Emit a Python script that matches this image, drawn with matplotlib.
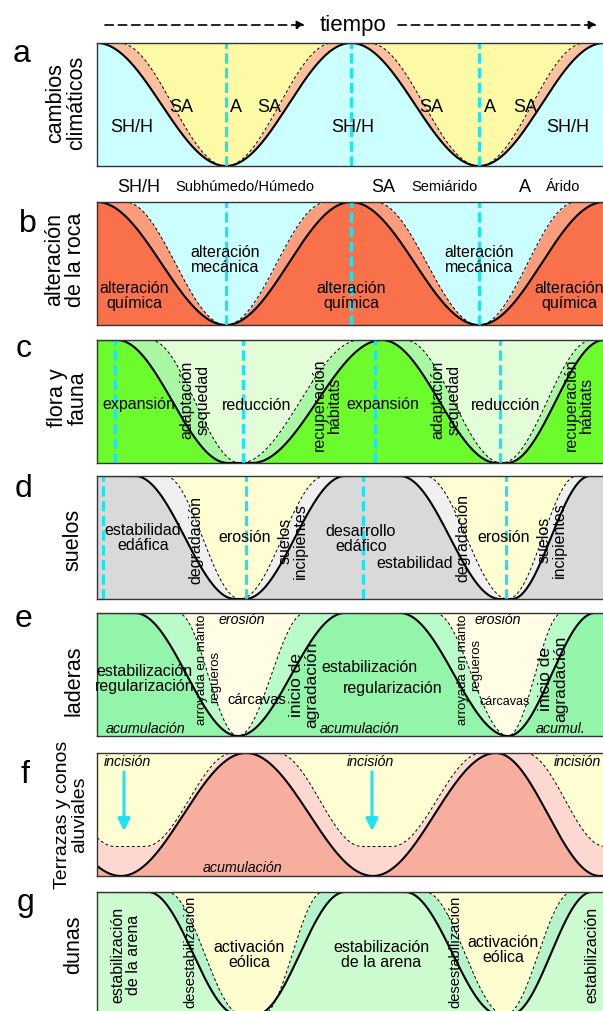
import numpy as np
import matplotlib.pyplot as plt

plt.rcParams['font.family'] = ['Liberation Sans', 'DejaVu Sans']

# ---- data ----------------------------------------------------------------
# time runs along x (same arbitrary units for every panel); level 0 = box bottom, 1 = box top
panel_ids = ['a', 'b', 'c', 'd', 'e', 'f', 'g']
panel_names = ['cambios\nclimáticos', 'alteración\nde la roca', 'flora y\nfauna', 'suelos',
               'laderas', 'Terrazas y conos\naluviales', 'dunas']

# solid curve key points (time, level)
a_solid_t = [97, 226, 351, 479, 604, 730]
a_solid_v = [1, 0, 1, 0, 1, 0]
a_dash_t = [97, 119, 226, 333, 369, 479, 585, 700]
a_dash_v = [1, 1, 0, 1, 1, 0, 1, 1]

b_solid_t = [97, 226, 351, 479, 604, 730]
b_solid_v = [1, 0, 1, 0, 1, 0]
b_dash_t = [97, 125, 226, 327, 375, 479, 576, 700]
b_dash_v = [1, 1, 0, 1, 1, 0, 1, 1]

c_solid_t = [97, 117, 228, 252, 382, 497, 507, 604, 700]
c_solid_v = [1, 1, 0, 0, 1, 0, 0, 1, 1]
c_dash_t = [97, 150, 240, 360, 405, 502, 592, 700]
c_dash_v = [1, 1, 0, 1, 1, 0, 1, 1]

d_solid_t = [97, 135, 235, 245, 345, 400, 500, 512, 590, 700]
d_solid_v = [1, 1, 0, 0, 1, 1, 0, 0, 1, 1]
d_dash_t = [97, 165, 240, 325, 425, 508, 577, 700]
d_dash_v = [1, 1, 0, 1, 1, 0, 1, 1]

e_solid_t = [97, 135, 238, 345, 400, 508, 595, 700]
e_solid_v = [1, 1, 0, 1, 1, 0, 1, 1]
e_dash_t = [97, 178, 238, 305, 435, 508, 562, 700]
e_dash_v = [1, 1, 0, 1, 1, 0, 1, 1]

f_solid_t = [-8, 121, 246, 373, 496, 600, 727]
f_solid_v = [1, 0, 1, 0, 1, 0, 1]
f_dash_t = [25, 115, 145, 233, 277, 362, 392, 482, 525, 605, 635, 730]
f_dash_v = [1, .24, .24, 1, 1, .24, .24, 1, 1, .24, .24, 1]

g_solid_t = [97, 148, 238, 255, 345, 405, 500, 510, 592, 700]
g_solid_v = [1, 1, 0, 0, 1, 1, 0, 0, 1, 1]
g_dash_t = [97, 167, 242, 262, 323, 425, 505, 572, 700]
g_dash_v = [1, 1, 0, 0, 1, 1, 0, 1, 1]

solid_t = [a_solid_t, b_solid_t, c_solid_t, d_solid_t, e_solid_t, f_solid_t, g_solid_t]
solid_v = [a_solid_v, b_solid_v, c_solid_v, d_solid_v, e_solid_v, f_solid_v, g_solid_v]
dash_t = [a_dash_t, b_dash_t, c_dash_t, d_dash_t, e_dash_t, f_dash_t, g_dash_t]
dash_v = [a_dash_v, b_dash_v, c_dash_v, d_dash_v, e_dash_v, f_dash_v, g_dash_v]

# times of the cyan reference lines
cyan_times = [[226, 351, 479], [226, 351, 479], [115, 243, 375, 500],
              [103, 246, 363, 506], [], [], []]

# colours: below solid, between solid and dashed, above dashed
below_col = ['#ccffff', '#f9714a', '#6cfb2c', '#d9d9d9', '#92f5aa', '#f8ae9f', '#cdfbd0']
band_col = ['#fbc09e', '#fb9d7d', '#a9f7a2', '#f0f0f0', '#b9fbc9', '#fdd8d0', '#b5f3cb']
above_col = ['#fdfaa6', '#ccffff', '#e2fdd8', '#fefed2', '#fffde5', '#fefed2', '#fefdcf']

CYAN = '#1fe3f0'


def wave(tk, vk, t):
    tk = np.asarray(tk, float)
    vk = np.asarray(vk, float)
    i = np.clip(np.searchsorted(tk, t) - 1, 0, len(tk) - 2)
    f = np.clip((t - tk[i]) / (tk[i + 1] - tk[i]), 0, 1)
    return vk[i] + (vk[i + 1] - vk[i]) * (1 - np.cos(np.pi * f)) / 2


W, H = 603, 1011
fig = plt.figure(figsize=(W / 100, H / 100), dpi=100)

tops = [43, 202, 340, 476, 613, 753, 892]
box_h = 123
x0, x1 = 97, 606
t = np.linspace(x0, x1, 1500)

for k in range(7):
    ax = fig.add_axes([x0 / W, 1 - (tops[k] + box_h) / H, (x1 - x0) / W, box_h / H])
    ax.set_xlim(x0, x1)
    ax.set_ylim(0, 1)
    ax.set_facecolor(above_col[k])
    ys = wave(solid_t[k], solid_v[k], t)
    yd = wave(dash_t[k], dash_v[k], t)
    ax.fill_between(t, 0, yd, color=band_col[k], lw=0)
    ax.fill_between(t, 0, ys, color=below_col[k], lw=0)
    ax.plot(t, yd, color='k', lw=0.7, ls=(0, (3, 2.5)))
    ax.plot(t, ys, color='k', lw=1.5)
    for c in cyan_times[k]:
        ax.axvline(c, color=CYAN, lw=2.3, ls=(0, (3.2, 1.4)))
    ax.set_xticks([])
    ax.set_yticks([])
    for s in ax.spines.values():
        s.set_color('#333333')
        s.set_linewidth(1.0)

# ---- overlay for all the writing, in pixel units --------------------------
ov = fig.add_axes([0, 0, 1, 1])
ov.set_xlim(0, W)
ov.set_ylim(H, 0)
ov.axis('off')

letter_pos = [(22, 62), (28, 232), (24, 357), (23, 497), (24, 627), (25, 783), (25, 911)]
name_pos = [(66, 103), (65, 260), (68, 398), (73, 540), (74, 681), (71, 815), (74, 945)]
for k in range(7):
    ov.text(*letter_pos[k], panel_ids[k], fontsize=23, ha='center', va='baseline')
    ov.text(*name_pos[k], panel_names[k], fontsize=15.5 if k != 5 else 14, rotation=90,
            ha='center', va='center', linespacing=1.0)

# time arrows
for xa, xb in [(105, 305), (398, 597)]:
    ov.annotate('', xy=(xb, 25), xytext=(xa, 25),
                arrowprops=dict(arrowstyle='-|>', color='k', lw=1.2, ls=(0, (5, 3)),
                                mutation_scale=12, shrinkA=0, shrinkB=0))
ov.text(353, 25, 'tiempo', fontsize=16, ha='center', va='center')

# climate legend
ov.text(139, 187, 'SH/H', fontsize=13, ha='center', va='center')
ov.text(175, 187, 'Subhúmedo/Húmedo', fontsize=10.5, ha='left', va='center')
ov.text(383, 187, 'SA', fontsize=13, ha='center', va='center')
ov.text(411, 187, 'Semiárido', fontsize=10.5, ha='left', va='center')
ov.text(525, 187, 'A', fontsize=13, ha='center', va='center')
ov.text(546, 187, 'Árido', fontsize=10.5, ha='left', va='center')

# (text, x, y, size, rotation, style)
labels = [
    # a
    ('SH/H', 132, 127, 13, 0, 'normal'), ('SA', 181, 107, 13, 0, 'normal'),
    ('A', 236, 107, 13, 0, 'normal'), ('SA', 269, 107, 13, 0, 'normal'),
    ('SH/H', 353, 127, 13, 0, 'normal'), ('SA', 431, 107, 13, 0, 'normal'),
    ('A', 490, 107, 13, 0, 'normal'), ('SA', 525, 107, 13, 0, 'normal'),
    ('SH/H', 568, 127, 13, 0, 'normal'),
    # b
    ('alteración\nmecánica', 225, 260, 11.5, 0, 'normal'),
    ('alteración\nmecánica', 479, 260, 11.5, 0, 'normal'),
    ('alteración\nquímica', 134, 296, 11.5, 0, 'normal'),
    ('alteración\nquímica', 351, 296, 11.5, 0, 'normal'),
    ('alteración\nquímica', 569, 296, 11.5, 0, 'normal'),
    # c
    ('expansión', 139, 405, 11.5, 0, 'normal'),
    ('adaptación\nsequedad', 195, 400, 11.5, 90, 'normal'),
    ('reducción', 257, 405, 11.5, 0, 'normal'),
    ('recuperación\nhábitats', 327, 405, 11.5, 90, 'normal'),
    ('expansión', 383, 405, 11.5, 0, 'normal'),
    ('adaptación\nsequedad', 446, 400, 11.5, 90, 'normal'),
    ('reducción', 506, 405, 11.5, 0, 'normal'),
    ('recuperación\nhábitats', 579, 405, 11.5, 90, 'normal'),
    # d
    ('estabilidad\nedáfica', 143, 538, 11.5, 0, 'normal'),
    ('degradación', 196, 540, 11.5, 90, 'normal'),
    ('erosión', 245, 538, 11.5, 0, 'normal'),
    ('suelos\nincipientes', 293, 541, 11.5, 90, 'normal'),
    ('desarrollo\nedáfico', 361, 539, 11.5, 0, 'normal'),
    ('estabilidad', 415, 563, 11.5, 0, 'normal'),
    ('degradación', 463, 538, 11.5, 90, 'normal'),
    ('erosión', 504, 538, 11.5, 0, 'normal'),
    ('suelos\nincipientes', 552, 540, 11.5, 90, 'normal'),
    # e
    ('erosión', 242, 620, 10.3, 0, 'italic'),
    ('estabilización', 144, 672, 11.5, 0, 'normal'),
    ('regularización', 145, 687, 11.5, 0, 'normal'),
    ('acumulación', 145, 729, 10.3, 0, 'italic'),
    ('arroyada en manto', 202, 670, 9.5, 90, 'normal'),
    ('regueros', 215, 677, 9.5, 90, 'normal'),
    ('cárcavas', 257, 700, 10.5, 0, 'normal'),
    ('inicio de\nagradación', 304, 685, 12.5, 90, 'normal'),
    ('estabilización', 369, 668, 11.5, 0, 'normal'),
    ('regularización', 393, 688, 11.5, 0, 'normal'),
    ('acumulación', 359, 729, 10.3, 0, 'italic'),
    ('erosión', 498, 620, 10.3, 0, 'italic'),
    ('arroyada en manto', 463, 670, 9.5, 90, 'normal'),
    ('regueros', 476, 665, 9.5, 90, 'normal'),
    ('cárcavas', 505, 702, 9, 0, 'normal'),
    ('inicio de\nagradación', 553, 679, 12.5, 90, 'normal'),
    ('acumul.', 561, 729, 10.3, 0, 'italic'),
    # f
    ('incisión', 127, 762, 10.3, 0, 'italic'),
    ('incisión', 370, 762, 10.3, 0, 'italic'),
    ('incisión', 577, 762, 10.3, 0, 'italic'),
    ('acumulación', 242, 868, 10.3, 0, 'italic'),
    # g
    ('estabilización\nde la arena', 126, 955, 11.5, 90, 'normal'),
    ('desestabilización', 190, 952, 10.5, 90, 'normal'),
    ('activación\neólica', 249, 955, 11.5, 0, 'normal'),
    ('estabilización\nde la arena', 381, 955, 11.5, 0, 'normal'),
    ('desestabilización', 455, 952, 10.5, 90, 'normal'),
    ('activación\neólica', 503, 950, 11.5, 0, 'normal'),
    ('estabilización', 592, 955, 11.5, 90, 'normal'),
]
for txt, x, y, fs, rot, st in labels:
    ov.text(x, y, txt, fontsize=fs, rotation=rot, style=st, ha='center', va='center',
            linespacing=1.05)

# incision arrows in panel f
for xa in [124, 372]:
    ov.annotate('', xy=(xa, 831), xytext=(xa, 772),
                arrowprops=dict(arrowstyle='-|>', color=CYAN, lw=2.2,
                                mutation_scale=18, shrinkA=0, shrinkB=0))

fig.savefig('out.png', dpi=100)
